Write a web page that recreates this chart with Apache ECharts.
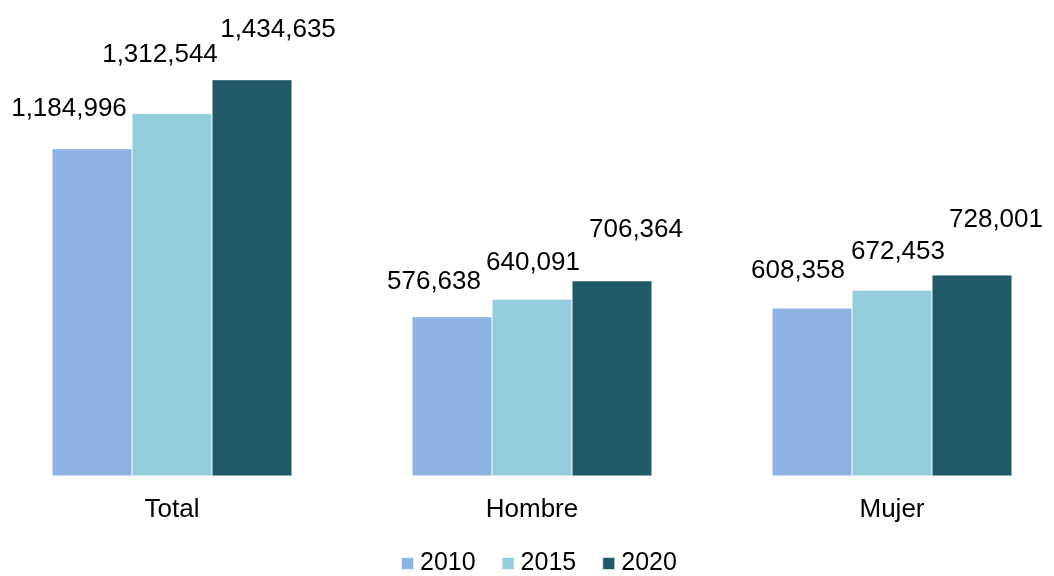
<!DOCTYPE html>
<html>
<head>
<meta charset="utf-8">
<script src="https://cdn.jsdelivr.net/npm/echarts@6/dist/echarts.min.js"></script>
<style>html,body{margin:0;padding:0;background:#fff;overflow:hidden;width:1054px;height:576px}#c{width:1080px;height:576px;margin-left:-8px}</style>
</head>
<body>
<div id="c"></div>
<script>
var categories = ['Total', 'Hombre', 'Mujer'];
var seriesNames = ['2010', '2015', '2020'];
var values2010 = [1184996, 576638, 608358];
var values2015 = [1312544, 640091, 672453];
var values2020 = [1434635, 706364, 728001];

var colors = ['#8EB4E3', '#93CDDD', '#215968'];
// manual label offsets (as in the original chart), per series per category
var labelOffsets = [
  [[-23, -22], [-18, -17], [-14, -19]],
  [[-12, -41], [1, -18], [6, -20]],
  [[26, -32], [24, -33], [24, -37]]
];
var allValues = [values2010, values2015, values2020];
var fmt = function (v) { return v.toLocaleString('en-US'); };
var FONT = 'Liberation Sans, Arial, sans-serif';

var series = seriesNames.map(function (name, si) {
  return {
    name: name,
    type: 'bar',
    barWidth: 80,
    barGap: '0%',
    barCategoryGap: '33.3%',
    itemStyle: { color: colors[si], borderColor: 'rgba(255,255,255,0.8)', borderWidth: 0.5 },
    data: allValues[si].map(function (v, ci) {
      return {
        value: v,
        label: { offset: labelOffsets[si][ci] }
      };
    }),
    label: {
      show: true,
      position: 'top',
      distance: 5,
      color: '#000',
      fontFamily: FONT,
      fontSize: 26,
      formatter: function (p) { return fmt(p.value); }
    }
  };
});

var chart = echarts.init(document.getElementById('c'));
chart.setOption({
  animation: false,
  color: colors,
  grid: { left: 0, right: 0, top: 34, bottom: 100, containLabel: false },
  legend: {
    bottom: 0,
    left: 408,
    padding: 0,
    icon: 'rect',
    itemWidth: 13,
    itemHeight: 13,
    itemGap: 25,
    textStyle: { fontFamily: FONT, fontSize: 25, color: '#000', padding: [0, 0, 0, 1] },
    data: seriesNames
  },
  xAxis: {
    type: 'category',
    data: categories,
    axisLine: { show: false },
    axisTick: { show: false },
    axisLabel: { color: '#000', fontFamily: FONT, fontSize: 26, margin: 21 }
  },
  yAxis: {
    type: 'value',
    min: 0,
    max: 1600000,
    show: false,
    splitLine: { show: false }
  },
  series: series
});
</script>
</body>
</html>
